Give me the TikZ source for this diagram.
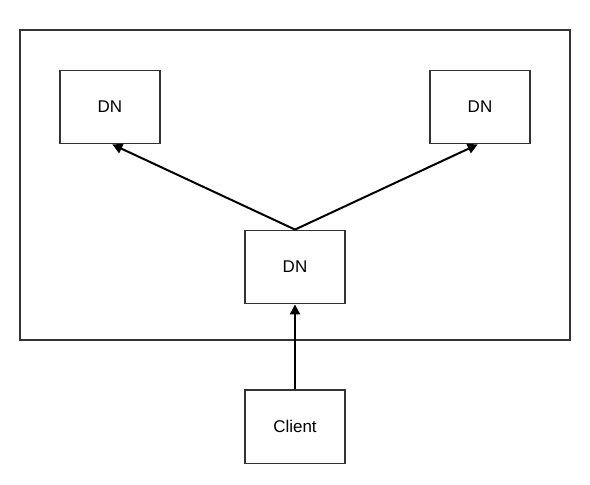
\documentclass[tikz,border=0pt]{standalone}
\usepackage{fontspec}
\setmainfont{Liberation Sans}
\usetikzlibrary{arrows.meta,positioning}
\definecolor{Edge}{HTML}{333333}

\begin{document}
\begin{tikzpicture}[x=0.03cm,y=-0.03cm,node distance=2.55cm,
box/.style={draw=Edge,line width=1.3pt,fill=white,align=center,minimum width=3cm,minimum height=2.2cm,inner sep=3pt,font=\fontsize{14.5}{17}\selectfont},
arrow/.style={-{Triangle[length=3mm,width=3mm]},line width=1.7pt,draw=black}]
\useasboundingbox (0,0) rectangle (590,485);
\node[draw=Edge,line width=1.3pt,minimum width=16.5cm,minimum height=9.3cm,inner sep=0pt](cluster) at (295,185){};
\node[box](dnleft) at (110,107){DN};
\node[box](dnright) at (480,107){DN};
\node[box](dnmid) at (295,267){DN};
\node[box,below=of dnmid](client){Client};
\draw[arrow](dnmid.north) -- ([xshift=2pt]dnleft.south);
\draw[arrow](dnmid.north) -- ([xshift=-2pt]dnright.south);
\draw[arrow](client) -- (dnmid);
\end{tikzpicture}
\end{document}
